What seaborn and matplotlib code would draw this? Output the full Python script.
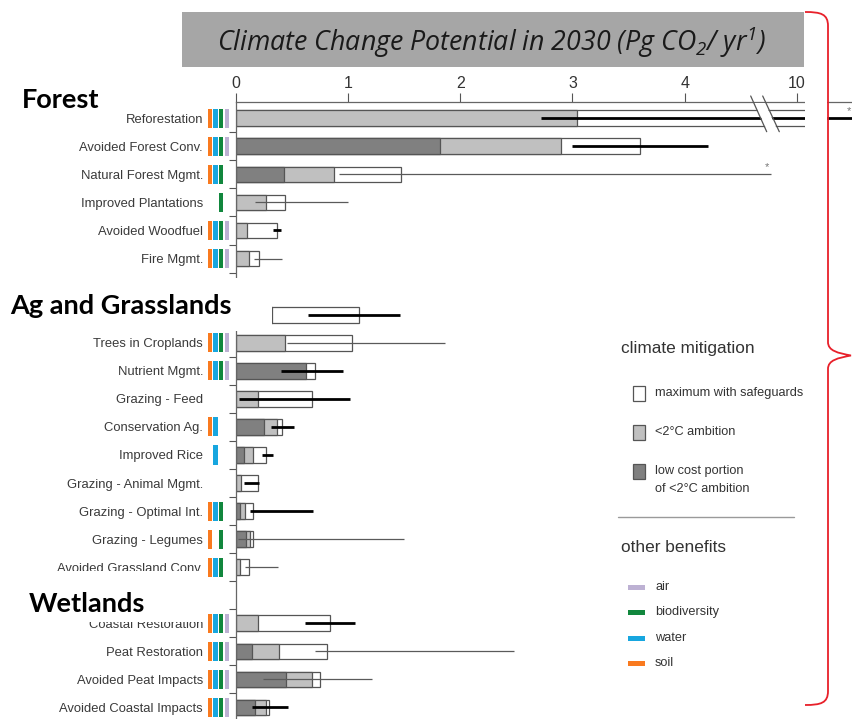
import numpy as np
import pandas as pd
import matplotlib
matplotlib.use("Agg")
import matplotlib.pyplot as plt
from matplotlib.patches import Rectangle, Polygon, PathPatch
from matplotlib.path import Path
from matplotlib.lines import Line2D
from matplotlib.transforms import Affine2D
import seaborn as sns

# ---------------------------------------------------------------- data
nan = np.nan
pathways = [
    "Reforestation", "Avoided Forest Conv.", "Natural Forest Mgmt.",
    "Improved Plantations", "Avoided Woodfuel", "Fire Mgmt.",
    "Biochar", "Trees in Croplands", "Nutrient Mgmt.", "Grazing - Feed",
    "Conservation Ag.", "Improved Rice", "Grazing - Animal Mgmt.",
    "Grazing - Optimal Int.", "Grazing - Legumes", "Avoided Grassland Conv.",
    "Coastal Restoration", "Peat Restoration", "Avoided Peat Impacts",
    "Avoided Coastal Impacts",
]
biomes = ["Forest", "Ag and Grasslands", "Wetlands"]
biome_of = ["Forest"] * 6 + ["Ag and Grasslands"] * 10 + ["Wetlands"] * 4

# Pg CO2 / yr
low_cost = [nan, 1.82, 0.43, nan, nan, nan, nan, nan, 0.625, nan,
            0.25, 0.075, nan, 0.04, 0.095, nan, nan, 0.146, 0.45, 0.175]
ambition = [3.04, 2.90, 0.88, 0.27, 0.10, 0.12, 0.32, 0.44, nan, 0.20,
            0.37, 0.155, 0.05, 0.08, 0.13, 0.036, 0.20, 0.387, 0.68, 0.27]
maximum = [10.12, 3.60, 1.47, 0.44, 0.37, 0.21, 1.10, 1.04, 0.71, 0.68,
           0.41, 0.27, 0.20, 0.15, 0.15, 0.12, 0.84, 0.81, 0.75, 0.30]
range_low = [2.72, 3.00, 0.92, 0.17, 0.33, 0.16, 0.64, 0.46, 0.40, 0.03,
             0.31, 0.23, 0.07, 0.13, 0.02, 0.08, 0.62, 0.705, 0.24, 0.146]
range_high = [10.50, 4.21, 4.77, 1.00, 0.40, 0.41, 1.46, 1.86, 0.96, 1.02,
              0.52, 0.33, 0.205, 0.69, 1.50, 0.38, 1.06, 2.48, 1.21, 0.47]
range_basis = ["empirical", "empirical", "expert", "expert", "empirical",
               "expert", "empirical", "expert", "empirical", "empirical",
               "empirical", "empirical", "empirical", "empirical", "expert",
               "expert", "empirical", "expert", "expert", "empirical"]
range_truncated = [True, False, True] + [False] * 17
# S = soil, W = water, B = biodiversity, A = air
benefits = ["SWBA", "SWBA", "SWB", "B", "SWBA", "SWBA", "S", "SWBA", "SWBA",
            "", "SW", "W", "", "SWB", "SB", "SWB", "SWBA", "SWBA", "SWBA", "SWBA"]

benefit_keys = ["S", "W", "B", "A"]
benefit_names = {"A": "air", "B": "biodiversity", "W": "water", "S": "soil"}
benefit_colors = {"S": "#f97a1f", "W": "#17a6df", "B": "#11873d", "A": "#bdb1d3"}

df = pd.DataFrame({
    "pathway": pathways, "biome": biome_of, "low_cost": low_cost,
    "ambition": ambition, "maximum": maximum, "lo": range_low,
    "hi": range_high, "basis": range_basis, "truncated": range_truncated,
    "benefits": benefits,
})

# categorical order with an empty slot between biomes
order = []
for i, b in enumerate(biomes):
    if i:
        order.append(" " * i)
    order += [p for p, bb in zip(pathways, biome_of) if bb == b]
row = {name: i for i, name in enumerate(order)}
df["row"] = df["pathway"].map(row)

# ---------------------------------------------------------------- style
sns.set_style("white")
plt.rcParams["font.family"] = ["Liberation Sans", "DejaVu Sans"]
plt.rcParams["mathtext.fontset"] = "custom"
plt.rcParams["mathtext.rm"] = "Open Sans:italic"
plt.rcParams["mathtext.it"] = "Open Sans:italic"

LABEL_SIZE = 9.4

W, H = 852, 719
fig = plt.figure(figsize=(W / 100, H / 100), dpi=100, facecolor="white")
# pixel-coordinate transform (origin top-left) for annotations around the plot
px = Affine2D().scale(1 / W, -1 / H).translate(0, 1) + fig.transFigure

AX_L, AX_T = 235.7, 101.7
ax = fig.add_axes([AX_L / W, 0, (W - AX_L) / W, 1 - AX_T / H])

EDGE = "#555555"
for col, colr in [("maximum", "white"), ("ambition", "#c0c0c0"),
                  ("low_cost", "#808080")]:
    sns.barplot(data=df.dropna(subset=[col]), x=col, y="pathway", order=order,
                orient="y", color=colr, saturation=1, edgecolor=EDGE,
                linewidth=0.9, width=0.56, errorbar=None, ax=ax)

# broken value axis: 4.78 ... 9.8 squeezed into a narrow gap
B_LO, B_HI, GAP = 4.78, 9.80, 0.02


def fwd(x):
    x = np.asarray(x, dtype=float)
    return np.where(x <= B_LO, x,
                    np.where(x >= B_HI, x - (B_HI - B_LO) + GAP,
                             B_LO + (x - B_LO) * GAP / (B_HI - B_LO)))


def inv(y):
    y = np.asarray(y, dtype=float)
    return np.where(y <= B_LO, y,
                    np.where(y >= B_LO + GAP, y + (B_HI - B_LO) - GAP,
                             B_LO + (y - B_LO) * (B_HI - B_LO) / GAP))


ax.set_xscale("function", functions=(fwd, inv))
ax.set_xlim(0, 10.49)
ax.set_ylim(21.41, -0.59)

# uncertainty ranges
for r in df.itertuples():
    bold = r.basis == "empirical"
    ax.hlines(r.row, r.lo, r.hi, colors="black" if bold else "#5a5a5a",
              linewidth=2.0 if bold else 0.9, zorder=4)
    if r.truncated:
        ax.annotate("*", xy=(r.hi, r.row), xytext=(-4, 7),
                    textcoords="offset pixels", ha="center", va="center",
                    fontsize=8, color="#777777", annotation_clip=False)

# co-benefit strips left of the axis
for r in df.itertuples():
    for k, key in enumerate(benefit_keys):
        if key in r.benefits:
            ax.add_patch(Rectangle((-0.248 + k * 0.0495, r.row - 0.34), 0.037,
                                   0.68, facecolor=benefit_colors[key],
                                   linewidth=0, clip_on=False, zorder=3))

# axes cosmetics
ax.set_xlabel("")
ax.set_ylabel("")
ax.xaxis.tick_top()
ax.set_xticks([0, 1, 2, 3, 4, 10])
ax.set_xticklabels(["0", "1", "2", "3", "4", "10"])
ax.tick_params(axis="x", which="major", direction="out", length=6.3,
               width=0.8, color=EDGE, pad=1.7, labelsize=11.5,
               labelcolor="#333333", top=True, bottom=False, labeltop=True,
               labelbottom=False)
ax.tick_params(axis="x", which="minor", top=False, bottom=False)
ax.set_yticks(np.arange(0.5, len(order) - 0.5, 1), minor=True)
ax.tick_params(axis="y", which="major", length=0, pad=23.5,
               labelsize=LABEL_SIZE, labelcolor="#3a3a3a", left=False,
               labelleft=True)
ax.tick_params(axis="y", which="minor", length=5, width=0.8, color=EDGE,
               direction="out", left=True)
for lab in ax.get_yticklabels():
    # this label sits entirely under the biome header
    if lab.get_text() == "Biochar":
        lab.set_visible(False)
for s in ["right", "bottom"]:
    ax.spines[s].set_visible(False)
for s in ["top", "left"]:
    ax.spines[s].set_color("#666666")
    ax.spines[s].set_linewidth(0.9)

# axis break marks
fig.add_artist(Polygon([(754.5, 103), (765.2, 103), (777.6, 130.5),
                        (766.9, 130.5)], closed=True, facecolor="white",
                       edgecolor="none", transform=px, zorder=6))
for x0, x1 in [(750.7, 766.7), (762.7, 779.3)]:
    fig.add_artist(Line2D([x0, x1], [96, 131.7], color=EDGE, lw=0.9,
                          transform=px, zorder=7))

renderer = fig.canvas.get_renderer()


def fit(t, width_px):
    w = t.get_window_extent(renderer).width
    t.set_fontsize(t.get_fontsize() * width_px / w)


# title banner
fig.add_artist(Rectangle((182, 12), 622, 55, facecolor="#a6a6a6",
                         edgecolor="none", transform=px, zorder=5))
title = fig.text(491.5 / W, 1 - 42 / H,
                 r"Climate Change Potential in 2030 (Pg CO$_2$/ yr$^1$)",
                 family="Open Sans", style="italic", fontsize=16,
                 color="#1a1a1a", ha="center", va="center",
                 transform=fig.transFigure, zorder=6)
fit(title, 549)

# biome headers (white backing hides what lies beneath them)
fig.add_artist(Rectangle((0, 278), 271.5, 53, facecolor="white",
                         edgecolor="none", transform=px, zorder=5))
fig.add_artist(Rectangle((0, 571), 205, 50.5, facecolor="white",
                         edgecolor="none", transform=px, zorder=5))
head_pos = {"Forest": (22, 107.5), "Ag and Grasslands": (10, 313.5),
            "Wetlands": (29, 611.5)}
heads = {}
for b in biomes:
    x, y = head_pos[b]
    heads[b] = fig.text(x / W, 1 - y / H, b, family="Lato", weight="bold",
                        fontsize=16, color="black", ha="left", va="baseline",
                        zorder=6)
fit(heads["Ag and Grasslands"], 222)
for b in biomes:
    heads[b].set_fontsize(heads["Ag and Grasslands"].get_fontsize())

# crop band and bracket on the right
fig.add_artist(Rectangle((804.5, 0), 22.5, H, facecolor="white",
                         edgecolor="none", transform=px, zorder=8))
brace = Path(
    [(805, 12), (821, 12), (828, 14), (828, 26), (828, 342),
     (828, 351), (838, 353), (851, 355.5), (838, 358), (828, 360), (828, 369),
     (828, 691), (828, 703), (821, 705), (805, 705)],
    [Path.MOVETO, Path.CURVE4, Path.CURVE4, Path.CURVE4, Path.LINETO,
     Path.CURVE4, Path.CURVE4, Path.CURVE4, Path.CURVE4, Path.CURVE4,
     Path.CURVE4, Path.LINETO, Path.CURVE4, Path.CURVE4, Path.CURVE4])
fig.add_artist(PathPatch(brace, facecolor="none", edgecolor="#e8202a",
                         lw=1.3, transform=px, zorder=9))


# legend
def ptxt(x, y, s, size, **kw):
    return fig.text(x / W, 1 - y / H, s, fontsize=size, color="#333333",
                    ha="left", va="center", zorder=6, **kw)


t1 = ptxt(621, 349, "climate mitigation", 14)
fit(t1, 134)
items = [(393, "white", "maximum with safeguards"),
         (432, "#c0c0c0", "<2°C ambition"),
         (471, "#808080", "low cost portion")]
for y, fc, lab in items:
    fig.add_artist(Rectangle((633, y - 7.5), 12, 15, facecolor=fc,
                             edgecolor=EDGE, lw=0.9, transform=px, zorder=6))
    tt = ptxt(655, y, lab, 11)
    if lab.startswith("maximum"):
        fit(tt, 148)
        LEG_SIZE = tt.get_fontsize()
for t in fig.texts[-3:]:
    t.set_fontsize(LEG_SIZE)
ptxt(655, 489.5, "of <2°C ambition", LEG_SIZE)
fig.add_artist(Line2D([618, 794], [516.7, 516.7], color="#9a9a9a", lw=1.0,
                      transform=px, zorder=6))
t2 = ptxt(621, 547, "other benefits", 14)
t2.set_fontsize(t1.get_fontsize())
for y, key in [(587, "A"), (612.3, "B"), (638, "W"), (663.3, "S")]:
    fig.add_artist(Rectangle((628, y - 2.5), 17, 5,
                             facecolor=benefit_colors[key], edgecolor="none",
                             transform=px, zorder=6))
    ptxt(655, y, benefit_names[key], LEG_SIZE)

fig.savefig("out.png", dpi=100, facecolor="white")
